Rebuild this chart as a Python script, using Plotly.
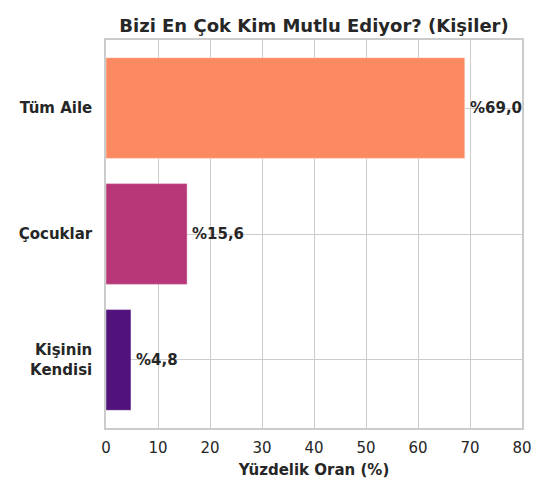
import plotly.graph_objects as go

# Veriler
kisiler = ["Tüm Aile", "Çocuklar", "Kişinin<br>Kendisi"]
oranlar = [69.0, 15.6, 4.8]
renkler = ["#fc8961", "#b73779", "#51127c"]
etiketler = ["%69,0", "%15,6", "%4,8"]

fig = go.Figure()

fig.add_trace(go.Bar(
    x=oranlar,
    y=kisiler,
    orientation="h",
    width=0.8,
    marker=dict(color=renkler, line=dict(color="rgba(255,255,255,0.4)", width=1)),
    hoverinfo="skip",
))

# Çubuk sonu yüzde etiketleri
for k, v, e in zip(kisiler, oranlar, etiketler):
    fig.add_annotation(
        x=v + 1, y=k, text="<b>" + e + "</b>",
        showarrow=False, xanchor="left", yanchor="middle", xshift=-2,
        font=dict(size=15, color="#262626"),
    )

# sayfa gövdesinin 8px kenar boşluğu hesaba katıldı
fig.update_layout(
    width=550, height=495,
    margin=dict(l=98, r=36, t=32, b=75),
    plot_bgcolor="white", paper_bgcolor="white",
    font=dict(family="DejaVu Sans", color="#262626"),
    showlegend=False,
    title=dict(
        text="<b>Bizi En Çok Kim Mutlu Ediyor? (Kişiler)</b>",
        x=0.5, xref="paper", xanchor="center",
        y=1 - 18 / 495, yanchor="middle",
        font=dict(size=18, color="#262626"),
    ),
)

fig.update_xaxes(
    range=[0, 80], dtick=10,
    showgrid=True, gridcolor="#cccccc", gridwidth=1,
    zeroline=False,
    showline=True, linecolor="#cccccc", linewidth=1.5, mirror=True,
    tickfont=dict(size=15, color="#262626"),
    ticklabelstandoff=5,
    title=dict(text="<b>Yüzdelik Oran (%)</b>", font=dict(size=15, color="#262626"), standoff=9),
)

fig.update_yaxes(
    type="category",
    range=[2.54, -0.54],
    showgrid=True, gridcolor="#cccccc", gridwidth=1,
    zeroline=False,
    showline=True, linecolor="#cccccc", linewidth=1.5, mirror=True,
    tickfont=dict(size=15, color="#262626"),
    ticklabelstandoff=9,
    tickprefix="<b>", ticksuffix="</b>",
)

fig.write_html("out.html")
